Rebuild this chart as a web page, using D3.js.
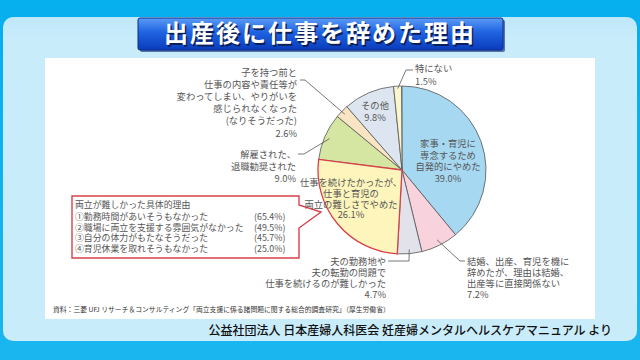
<!DOCTYPE html>
<html><head><meta charset="utf-8">
<script src="https://cdn.jsdelivr.net/npm/d3@7"></script>
<style>
html,body{margin:0;padding:0;background:#0aaeec;}
svg{display:block;font-family:"Noto Sans CJK JP","Noto Sans",sans-serif;}
</style></head>
<body><svg id="c" width="640" height="360"></svg>
<script>
const title = "出産後に仕事を辞めた理由";
const categories = [
  ["家事・育児に","専念するため","自発的にやめた"],
  ["結婚、出産、育児を機に","辞めたが、理由は結婚、","出産等に直接関係ない"],
  ["夫の勤務地や","夫の転勤の問題で","仕事を続けるのが難しかった"],
  ["仕事を続けたかったが、","仕事と育児の","両立の難しさでやめた"],
  ["解雇された、","退職勧奨された"],
  ["子を持つ前と","仕事の内容や責任等が","変わってしまい、やりがいを","感じられなくなった","(なりそうだった)"],
  ["その他"],
  ["特にない"]
];
const values = [39.0, 7.2, 4.7, 26.1, 9.0, 2.6, 9.8, 1.5];
const colors = ["#a6d8f1","#f8d2dc","#e2e2ea","#fdf5bc","#d5e5a2","#f9e5c3","#dde6f0","#fcf6cf"];
const boxTitle = "両立が難しかった具体的理由";
const reasons = ["①勤務時間があいそうもなかった","②職場に両立を支援する雰囲気がなかった","③自分の体力がもたなそうだった","④育児休業を取れそうもなかった"];
const reasonValues = [65.4, 49.5, 45.7, 25.0];
const sourceText = "資料：三菱 UFJ リサーチ＆コンサルティング「両立支援に係る諸問題に関する総合的調査研究」（厚生労働省）";
const creditText = "公益社団法人 日本産婦人科医会 妊産婦メンタルヘルスケアマニュアル より";

const svg = d3.select("#c");
const defs = svg.append("defs");
const g1 = defs.append("linearGradient").attr("id","bg").attr("x1",0).attr("y1",0).attr("x2",0).attr("y2",1);
g1.append("stop").attr("offset","0%").attr("stop-color","#05aeee");
g1.append("stop").attr("offset","100%").attr("stop-color","#1ab6ef");
const g2 = defs.append("linearGradient").attr("id","ban").attr("x1",0).attr("y1",0).attr("x2",0).attr("y2",1);
g2.append("stop").attr("offset","0%").attr("stop-color","#5a9cf6");
g2.append("stop").attr("offset","45%").attr("stop-color","#1f62e0");
g2.append("stop").attr("offset","100%").attr("stop-color","#0a3cbc");
const g3 = defs.append("linearGradient").attr("id","pan").attr("x1",0).attr("y1",0).attr("x2",0).attr("y2",1);
g3.append("stop").attr("offset","0%").attr("stop-color","#bfe8fa");
g3.append("stop").attr("offset","8%").attr("stop-color","#c9ecfb");
g3.append("stop").attr("offset","100%").attr("stop-color","#c9ecfb");

svg.append("rect").attr("width",640).attr("height",360).attr("fill","url(#bg)");
svg.append("rect").attr("x",3).attr("y",17).attr("width",634).attr("height",324).attr("rx",10).attr("fill","url(#pan)");
svg.append("rect").attr("x",45).attr("y",58).attr("width",550).attr("height",261).attr("fill","#ffffff");

// title banner
svg.append("rect").attr("x",140).attr("y",20).attr("width",365).attr("height",32).attr("rx",2).attr("fill","#0a2370").attr("opacity",0.6);
svg.append("rect").attr("x",138).attr("y",18).attr("width",365).attr("height",32).attr("rx",2)
  .attr("fill","url(#ban)").attr("stroke","#0b2d8c").attr("stroke-width",1);
svg.append("text").attr("x",321.5).attr("y",43.5).attr("text-anchor","middle")
  .attr("font-size",24).attr("font-weight",700).attr("letter-spacing",2).attr("fill","#0a1f5a").text(title);
svg.append("text").attr("x",320).attr("y",42).attr("text-anchor","middle")
  .attr("font-size",24).attr("font-weight",700).attr("letter-spacing",2).attr("fill","#ffffff").text(title);

// pie
const cx = 402, cy = 170, R = 84;
const pie = d3.pie().sort(null).value(d => d).startAngle(0).endAngle(2*Math.PI*d3.sum(values)/100);
const arcs = pie(values);
const arc = d3.arc().innerRadius(0).outerRadius(R);
const pg = svg.append("g").attr("transform",`translate(${cx},${cy})`);
const order = d3.range(values.length).filter(i => i !== 3).concat([3]);
pg.selectAll("path.sl").data(order.map(i => arcs[i])).join("path")
  .attr("class","sl").attr("d",arc)
  .attr("fill",d => colors[d.index])
  .attr("stroke",d => d.index === 3 ? "#d8404a" : "#555")
  .attr("stroke-width",d => d.index === 3 ? 1.3 : 0.8)
  .attr("stroke-linejoin","round");

function pt(i, rf){ const a = (arcs[i].startAngle + arcs[i].endAngle)/2; return [cx + Math.sin(a)*R*rf, cy - Math.cos(a)*R*rf]; }
const lab = svg.append("g").attr("fill","#555").attr("font-size",9.3);
function block(lines, x, y0, anchor, lh){
  lines.forEach((t,k) => lab.append("text").attr("x",x).attr("y",y0 + k*lh).attr("text-anchor",anchor).text(t));
}
const pct = v => v.toFixed(1) + "%";
const line = d3.line();
function leader(points){ svg.append("path").attr("d",line(points)).attr("fill","none").attr("stroke","#555").attr("stroke-width",0.8); }

// callout box (drawn before labels)
const q = d3.path();
q.moveTo(72,196); q.lineTo(299,196); q.lineTo(299,205); q.lineTo(321,212); q.lineTo(299,228); q.lineTo(299,258); q.lineTo(72,258); q.closePath();
svg.insert("path", "g").attr("d", q.toString())
  .attr("fill","#ffffff").attr("stroke","#d8404a").attr("stroke-width",1.4).attr("stroke-linejoin","miter");

// inside labels
block(categories[0].concat([pct(values[0])]), 448, 147, "middle", 11.7);
block(categories[3].concat([pct(values[3])]), 351, 186, "middle", 10.8);
block(categories[6].concat([pct(values[6])]), 375, 109, "middle", 11.5);

// outside labels
block(categories[1].concat([pct(values[1])]), 467, 264.5, "start", 11);
let p = pt(1, 0.93); leader([p, [460,261], [465,261]]);
block(categories[2].concat([pct(values[2])]), 386, 264.5, "end", 11);
p = pt(2, 0.95); leader([p, [409,261], [388,261]]);
block(categories[4].concat([pct(values[4])]), 296, 157.5, "end", 12.3);
p = pt(4, 0.94); leader([p, [304,154], [298,154]]);
block(categories[5].concat([pct(values[5])]), 297, 75.5, "end", 12.2);
p = pt(5, 0.95); leader([p, [305,80], [300,80]]);
block(categories[7].concat([pct(values[7])]), 415, 72, "start", 12.5);
p = pt(7, 0.97); leader([p, [406,70], [413,70]]);

const bx = svg.append("g").attr("fill","#555").attr("font-size",8.9);
bx.append("text").attr("x",75).attr("y",207.5).text(boxTitle);
reasons.forEach((r,k) => {
  bx.append("text").attr("x",75).attr("y",220 + k*10.5).text(r);
  bx.append("text").attr("x",254).attr("y",220 + k*10.5).text("(" + pct(reasonValues[k]) + ")");
});

// source and credit
svg.append("text").attr("x",53).attr("y",311.5).attr("font-size",6.8).attr("fill","#333").text(sourceText);
svg.append("text").attr("x",612).attr("y",334.5).attr("text-anchor","end").attr("font-size",12).attr("font-weight",500).attr("fill","#111").text(creditText);
</script></body></html>
